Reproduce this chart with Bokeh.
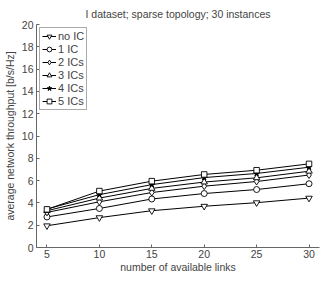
from bokeh.plotting import figure
from bokeh.models import Range1d, FixedTicker, Legend, LegendItem
from bokeh.embed import file_html
from bokeh.resources import INLINE

links = [5, 10, 15, 20, 25, 30]
no_ic = [1.95, 2.68, 3.30, 3.70, 4.02, 4.43]
ic1 = [2.74, 3.50, 4.35, 4.84, 5.20, 5.72]
ic2 = [3.15, 4.10, 4.93, 5.50, 5.92, 6.50]
ic3 = [3.30, 4.43, 5.30, 5.87, 6.25, 6.84]
ic4 = [3.45, 4.74, 5.64, 6.27, 6.64, 7.20]
ic5 = [3.42, 5.06, 5.95, 6.55, 6.93, 7.50]
labels = ["no IC", "1 IC", "2 ICs", "3 ICs", "4 ICs", "5 ICs"]
markers = ["inverted_triangle", "circle", "diamond", "triangle", "star", "square"]
sizes = [6.5, 6, 7, 6.5, 6, 5.5]
series = [no_ic, ic1, ic2, ic3, ic4, ic5]

FONT = "Liberation Sans"

p = figure(width=324, height=275, output_backend="svg", toolbar_location=None,
           x_range=Range1d(4, 31), y_range=Range1d(0, 20),
           min_border_left=23, min_border_right=5, min_border_top=14, min_border_bottom=28,
           title="I dataset; sparse topology; 30 instances")
p.outline_line_color = None
p.xgrid.grid_line_color = None
p.ygrid.grid_line_color = None
p.background_fill_color = "white"
p.border_fill_color = "white"

p.title.align = "center"
p.title.text_font = FONT
p.title.text_font_size = "10.5px"
p.title.text_font_style = "normal"
p.title.offset = 0

for ax in (p.xaxis[0], p.yaxis[0]):
    ax.axis_line_color = "#666666"
    ax.major_tick_line_color = "#666666"
    ax.major_tick_in = 3
    ax.major_tick_out = 0
    ax.minor_tick_line_color = None
    ax.major_label_text_font = FONT
    ax.major_label_text_font_size = "10.5px"
    ax.axis_label_text_font = FONT
    ax.axis_label_text_font_size = "10.5px"
    ax.axis_label_text_font_style = "normal"

p.xaxis.ticker = FixedTicker(ticks=links)
p.yaxis.ticker = FixedTicker(ticks=list(range(0, 21, 2)))
p.xaxis.axis_label = "number of available links"
p.yaxis.axis_label = "average network throughput [b/s/Hz]"
p.xaxis.major_label_standoff = 2
p.yaxis.major_label_standoff = 3
p.xaxis.axis_label_standoff = 0
p.yaxis.axis_label_standoff = 3

items = []
for lab, mk, sz, ys in zip(labels, markers, sizes, series):
    ln = p.line(links, ys, line_color="black", line_width=1)
    sc = p.scatter(links, ys, marker=mk, size=sz, line_color="black",
                   fill_color="white" if mk != "star" else "black", line_width=0.9)
    items.append(LegendItem(label=lab, renderers=[ln, sc]))

leg = Legend(items=items, location="top_left")
leg.label_text_font = FONT
leg.label_text_font_size = "11px"
leg.glyph_width = 14
leg.glyph_height = 12
leg.label_height = 12
leg.spacing = 1
leg.padding = 2
leg.margin = 3
leg.label_standoff = 2
leg.border_line_color = "#555555"
leg.border_line_width = 1
p.add_layout(leg)

open("out.html", "w").write(file_html(p, INLINE))
